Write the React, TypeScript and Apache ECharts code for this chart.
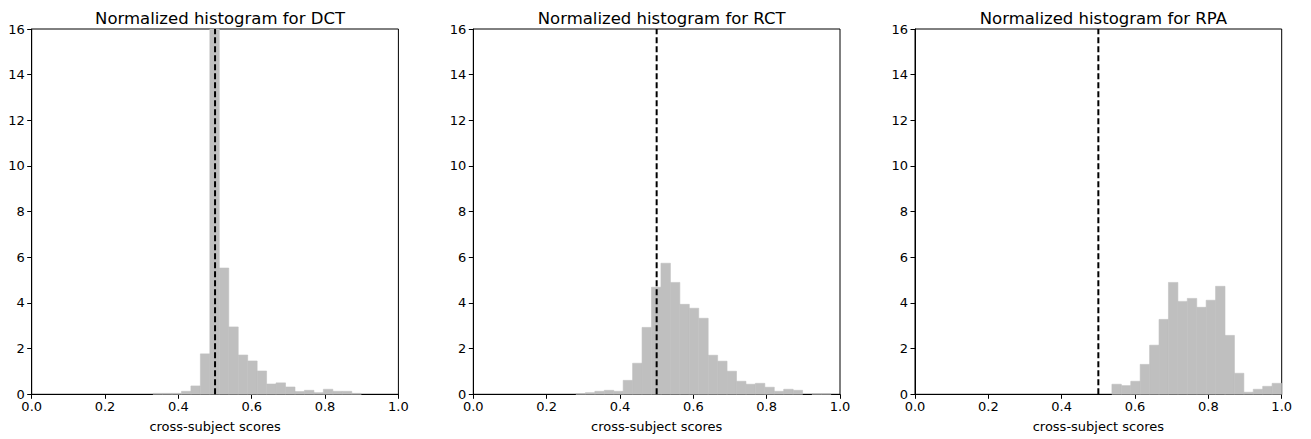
import React, { useEffect, useRef } from "react";
import * as echarts from "echarts";

const FONT = "DejaVu Sans";

const titles = ["Normalized histogram for DCT", "Normalized histogram for RCT", "Normalized histogram for RPA"];
const chanceLevel = 0.5;

// Histogram bins: first edge, bin width, densities
const dctStart = 0.331;
const dctWidth = 0.0258;
const dctHeights = [0.04, 0.04, 0.04, 0.13, 0.365, 1.77, 17.0, 5.53, 2.95, 1.72, 1.46, 1.02, 0.45, 0.5, 0.32, 0.12, 0.175, 0.07, 0.22, 0.13, 0.13, 0.04];

const rctStart = 0.28;
const rctWidth = 0.02575;
const rctHeights = [0.03, 0.07, 0.13, 0.175, 0.13, 0.61, 1.36, 2.93, 4.69, 5.74, 4.9, 3.94, 3.77, 3.33, 1.71, 1.45, 1.01, 0.57, 0.44, 0.48, 0.31, 0.13, 0.22, 0.175, 0, 0.03, 0.03];

const rpaStart = 0.537;
const rpaWidth = 0.0257;
const rpaHeights = [0.44, 0.38, 0.57, 1.31, 2.15, 3.28, 4.9, 4.07, 4.2, 3.81, 4.12, 4.73, 2.58, 0.92, 0.09, 0.22, 0.35, 0.48];

const panels = [
  { start: dctStart, width: dctWidth, heights: dctHeights },
  { start: rctStart, width: rctWidth, heights: rctHeights },
  { start: rpaStart, width: rpaWidth, heights: rpaHeights },
];

const gridLefts = [31.7, 473.3, 915];
const gridTop = 29;
const gridW = 366.7;
const gridH = 365.3;

export default function App() {
  const ref = useRef<HTMLDivElement>(null);
  useEffect(() => {
    if (!ref.current) return;
    const chart = echarts.init(ref.current, undefined, { renderer: "svg" });
    const grids: any[] = [];
    const xAxes: any[] = [];
    const yAxes: any[] = [];
    const series: any[] = [];
    const title: any[] = [];
    panels.forEach((p, i) => {
      grids.push({
        left: gridLefts[i], top: gridTop, width: gridW, height: gridH,
        show: true, borderColor: "#000", borderWidth: 1, backgroundColor: "transparent",
      });
      title.push({
        text: titles[i], left: gridLefts[i] + gridW / 2, top: 5, textAlign: "center",
        textStyle: { fontSize: 16.5, fontWeight: "normal", color: "#000", fontFamily: FONT },
      });
      xAxes.push({
        type: "value", gridIndex: i, min: 0, max: 1, interval: 0.2,
        name: "cross-subject scores", nameLocation: "middle", nameGap: 26,
        nameTextStyle: { fontSize: 13, color: "#000", fontFamily: FONT },
        axisLine: { show: true, lineStyle: { color: "#000", width: 1 } },
        axisTick: { show: true, length: 4.5, lineStyle: { color: "#000", width: 1 } },
        axisLabel: { margin: 6, fontSize: 13, color: "#000", fontFamily: FONT, formatter: (v: number) => v.toFixed(1) },
        splitLine: { show: false },
      });
      yAxes.push({
        type: "value", gridIndex: i, min: 0, max: 16, interval: 2,
        axisLine: { show: true, lineStyle: { color: "#000", width: 1 } },
        axisTick: { show: true, length: 4.5, lineStyle: { color: "#000", width: 1 } },
        axisLabel: { margin: 7, fontSize: 13, color: "#000", fontFamily: FONT },
        splitLine: { show: false },
      });
      const data = p.heights.map((h, k) => [p.start + k * p.width, p.start + (k + 1) * p.width, h]);
      series.push({
        type: "custom", xAxisIndex: i, yAxisIndex: i, data,
        encode: { x: [0, 1], y: 2 },
        renderItem: (params: any, api: any) => {
          const h = api.value(2);
          if (!(h > 0)) return null;
          const p0 = api.coord([api.value(0), 0]);
          const p1 = api.coord([api.value(1), h]);
          const cs = params.coordSys;
          const rect = echarts.graphic.clipRectByRect(
            { x: p0[0], y: p1[1], width: p1[0] - p0[0], height: p0[1] - p1[1] },
            { x: cs.x, y: cs.y, width: cs.width, height: cs.height }
          );
          if (!rect) return null;
          return { type: "rect", shape: rect, style: { fill: "#bfbfbf", stroke: "#bfbfbf", lineWidth: 0.6 } };
        },
        z: 2,
      });
      series.push({
        type: "line", xAxisIndex: i, yAxisIndex: i,
        data: [[chanceLevel, 0], [chanceLevel, 16]],
        symbol: "none", silent: true,
        lineStyle: { color: "#000", width: 2, type: [6, 3] },
        z: 5,
      });
    });
    chart.setOption({
      animation: false,
      backgroundColor: "#fff",
      title, grid: grids, xAxis: xAxes, yAxis: yAxes, series,
    });
    return () => chart.dispose();
  }, []);
  return <div ref={ref} style={{ position: "fixed", left: 0, top: 0, width: 1311, height: 439 }} />;
}
